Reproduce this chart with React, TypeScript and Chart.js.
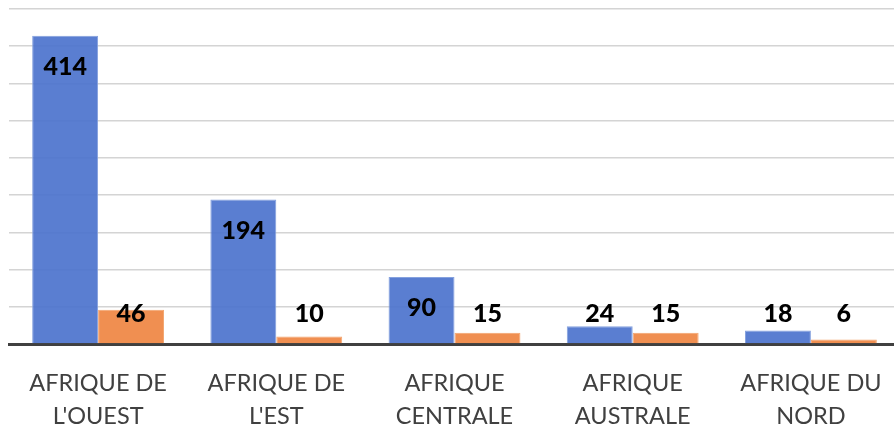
import React, { useEffect, useRef } from "react";
import { Chart, registerables } from "chart.js";

Chart.register(...registerables);

const categories: string[][] = [
  ["AFRIQUE DE", "L'OUEST"],
  ["AFRIQUE DE", "L'EST"],
  ["AFRIQUE", "CENTRALE"],
  ["AFRIQUE", "AUSTRALE"],
  ["AFRIQUE DU", "NORD"],
];
const seriesBlue: number[] = [414, 194, 90, 24, 18];
const seriesOrange: number[] = [46, 10, 15, 15, 6];
const yMax = 450;
const yStep = 50;

const labelPlugin = {
  id: "barLabels",
  afterDatasetsDraw(chart: any) {
    const ctx = chart.ctx;
    ctx.save();
    ctx.font = "900 25px Lato";
    ctx.fillStyle = "#000000";
    ctx.textAlign = "center";
    ctx.textBaseline = "middle";
    chart.data.datasets.forEach((ds: any, di: number) => {
      const meta = chart.getDatasetMeta(di);
      meta.data.forEach((el: any, i: number) => {
        const y = Math.min(el.y + 31, el.base - 29);
        ctx.fillText(String(ds.data[i]), el.x, y);
      });
    });
    ctx.restore();
  },
};

export default function App() {
  const ref = useRef<HTMLCanvasElement | null>(null);
  useEffect(() => {
    if (!ref.current) return;
    const chart = new Chart(ref.current, {
      type: "bar",
      data: {
        labels: categories,
        datasets: [
          {
            label: "A",
            data: seriesBlue,
            backgroundColor: "rgba(78,116,205,0.93)",
            borderColor: "#85a1de",
            borderWidth: 1,
            categoryPercentage: 0.74,
            barPercentage: 1.0,
          },
          {
            label: "B",
            data: seriesOrange,
            backgroundColor: "rgba(239,135,68,0.93)",
            borderColor: "#f4a670",
            borderWidth: 1,
            categoryPercentage: 0.74,
            barPercentage: 1.0,
          },
        ],
      },
      options: {
        responsive: false,
        animation: false,
        layout: { padding: { left: 1, top: 1, right: 0, bottom: 0 } },
        plugins: {
          legend: { display: false },
          tooltip: { enabled: false },
        },
        scales: {
          x: {
            grid: { display: false, drawTicks: false },
            border: { display: true, color: "#404040", width: 3 },
            ticks: {
              color: "#404040",
              font: { family: "Lato", size: 23.5, lineHeight: 1.4 },
              padding: 23,
              maxRotation: 0,
              autoSkip: false,
            },
            afterFit: (axis: any) => {
              axis.height = 84;
              axis.paddingLeft = 0;
              axis.paddingRight = 0;
            },
          },
          y: {
            min: 0,
            max: yMax,
            ticks: { display: false, stepSize: yStep },
            grid: { color: "#d4d4d4", lineWidth: 1.5, drawTicks: false },
            border: { display: false },
            afterFit: (axis: any) => {
              axis.width = 0;
            },
          },
        },
      },
      plugins: [labelPlugin],
    });
    return () => chart.destroy();
  }, []);
  return (
    <div
      style={{
        position: "absolute",
        left: 8,
        top: 8,
        width: 886,
        height: 420,
        overflow: "hidden",
      }}
    >
      <canvas ref={ref} width={892} height={420} />
    </div>
  );
}
